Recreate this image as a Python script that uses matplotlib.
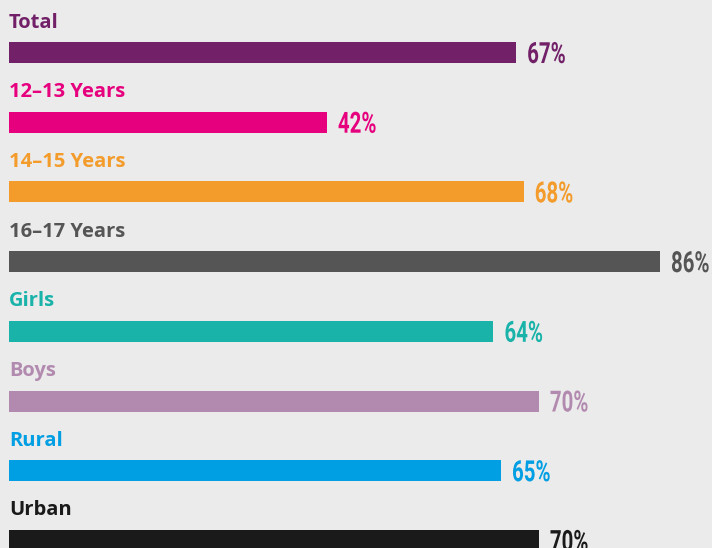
import matplotlib
matplotlib.use("Agg")
import matplotlib.pyplot as plt
from matplotlib import patheffects
from matplotlib.transforms import Affine2D

categories = ["Total", "12–13 Years", "14–15 Years", "16–17 Years",
              "Girls", "Boys", "Rural", "Urban"]
values = [67, 42, 68, 86, 64, 70, 65, 70]
colors = ["#722168", "#e6007e", "#f39c2b", "#555555",
          "#19b3aa", "#b28aaf", "#009ee3", "#1a1a1a"]

bg = "#ebebeb"


class Condense(patheffects.AbstractPathEffect):
    # squeeze glyphs horizontally (no condensed font installed)
    def __init__(self, sx):
        super().__init__()
        self.sx = sx

    def draw_path(self, renderer, gc, tpath, affine, rgbFace=None):
        renderer.draw_path(gc, tpath, Affine2D().scale(self.sx, 1) + affine, rgbFace)


fig = plt.figure(figsize=(7.12, 5.48), dpi=100, facecolor=bg)
ax = fig.add_axes([0, 0, 1, 1], facecolor=bg)

px = 7.57  # pixels per percent
ax.set_xlim(-9 / px, (712 - 9) / px)
row = 69.7
ax.set_ylim((548 - 52.5) / row, -52.5 / row)

ys = list(range(len(categories)))
ax.barh(ys, values, height=21 / row, color=colors, left=0)

for y, cat, v, c in zip(ys, categories, values, colors):
    ax.text(0, y - 25 / row, cat, color=c, fontsize=14.5, fontweight="bold",
            family=["Open Sans", "DejaVu Sans"], va="baseline", ha="left")
    ax.text(v + 11 / px, y + 10.5 / row, f"{v}%", color=c, fontsize=21,
            fontweight="bold", family=["Roboto", "DejaVu Sans"],
            va="baseline", ha="left", path_effects=[Condense(0.7)])

ax.axis("off")
fig.savefig("out.png", dpi=100, facecolor=bg)
